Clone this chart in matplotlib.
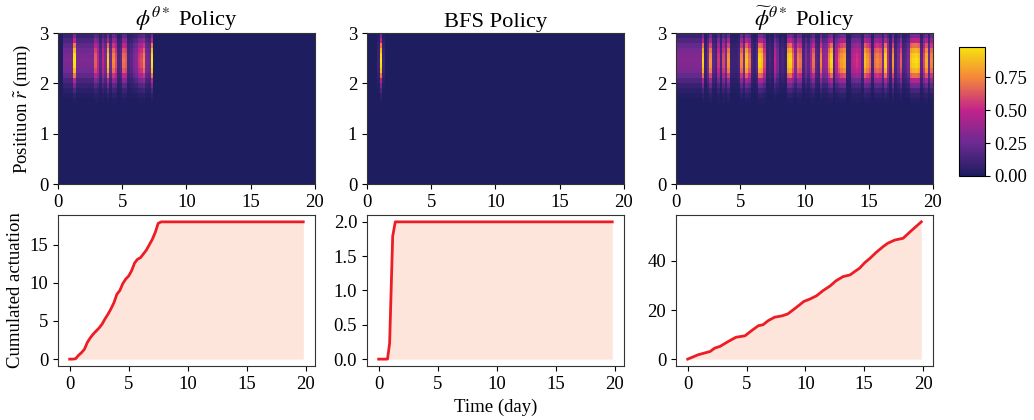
import numpy as np
import matplotlib
matplotlib.use("Agg")
import matplotlib.pyplot as plt
from matplotlib.colors import LinearSegmentedColormap
from matplotlib.ticker import FormatStrFormatter

plt.rcParams["font.family"] = ["Liberation Serif", "DejaVu Serif"]
plt.rcParams["mathtext.fontset"] = "stix"
plt.rcParams["font.size"] = 13.5

# ---- data -------------------------------------------------------------------
titles = [r"$\phi^{\theta*}$ Policy", "BFS Policy", r"$\widetilde{\phi}^{\theta*}$ Policy"]

# heatmap: time columns of 0.2 day, radial rows of 0.1 mm
t_edges = np.arange(0, 20.01, 0.2)
r_edges = np.arange(0, 3.001, 0.1)
# actuation profile along r (row centres 0.05 ... 2.95)
r_profile = [0.0] * 15 + [0.01, 0.03, 0.07, 0.15, 0.28, 0.48, 0.72, 0.9, 0.98,
                          1.0, 0.97, 0.88, 0.72, 0.5, 0.3]

amp_opt = ([0.0, 0.0, 0.3, 0.3, 0.3, 0.3, 1.0, 0.3, 0.3, 0.3,
            0.3, 0.3, 0.3, 0.3, 0.65, 0.5, 0.2, 0.5, 0.3, 0.95,
            0.25, 0.75, 0.6, 0.15, 0.2, 0.7, 0.65, 0.15, 0.2, 0.3,
            0.35, 0.55, 0.6, 0.75, 0.3, 0.25, 1.0] + [0.0] * 63)
amp_bfs = [0.0, 0.0, 0.0, 0.0, 0.1, 1.0, 0.1] + [0.0] * 93
amp_app = [0.32, 0.32, 0.32, 0.32, 0.32, 0.32, 0.32, 0.32, 0.32, 0.32,
           0.95, 0.1, 0.3, 0.8, 0.2, 0.15, 0.55, 0.15, 0.6, 0.3,
           0.8, 0.1, 0.1, 0.1, 0.15, 0.75, 0.3, 0.9, 0.7, 0.15,
           0.1, 0.2, 0.95, 0.9, 0.6, 0.1, 0.15, 0.1, 0.5, 0.3,
           0.1, 0.15, 0.1, 0.9, 0.95, 0.7, 0.35, 0.75, 0.7, 0.15,
           0.35, 0.2, 0.45, 0.7, 0.2, 0.15, 0.75, 0.35, 0.4, 0.75,
           0.95, 0.15, 0.5, 0.7, 0.8, 0.85, 0.1, 0.1, 0.45, 0.5,
           0.55, 0.5, 0.2, 0.9, 0.8, 0.7, 0.15, 0.7, 0.75, 0.7,
           0.3, 0.95, 0.5, 0.15, 0.8, 0.15, 0.3, 0.65, 0.15, 0.2,
           0.3, 0.9, 0.95, 0.97, 0.9, 0.2, 0.6, 0.85, 0.25, 0.75]
amps = [amp_opt, amp_bfs, amp_app]

# cumulated actuation curves
t_opt = [0, 0.25, 0.5, 0.75, 1.0, 1.25, 1.5, 1.75, 2.0, 2.25, 2.5, 2.75, 3.0,
         3.25, 3.5, 3.75, 4.0, 4.25, 4.5, 4.75, 5.0, 5.25, 5.5, 5.75, 6.0,
         6.25, 6.5, 6.75, 7.0, 7.25, 7.5, 7.75, 19.8]
c_opt = [0, 0, 0.05, 0.5, 0.85, 1.3, 2.2, 2.8, 3.3, 3.7, 4.1, 4.6, 5.3,
         5.9, 6.6, 7.4, 8.5, 9.0, 9.9, 10.5, 10.9, 11.6, 12.6, 13.1, 13.3,
         13.8, 14.3, 15.0, 15.7, 16.6, 17.8, 18.0, 18.0]
t_bfs = [0, 0.75, 0.93, 1.19, 1.41, 19.8]
c_bfs = [0, 0, 0.23, 1.79, 2.0, 2.0]
t_app = [0, 0.9, 1.9, 2.3, 2.75, 3.45, 4.1, 4.87, 5.4, 6.0, 6.4, 6.85, 7.4,
         8.0, 8.5, 8.97, 9.4, 9.87, 10.4, 10.95, 11.5, 12.1, 12.6, 13.2,
         13.8, 14.2, 14.6, 15.05, 15.5, 16.0, 16.6, 17.0, 17.6, 18.3, 19.0,
         19.85]
c_app = [0, 1.8, 3.1, 4.5, 5.2, 7.2, 8.9, 9.5, 11.5, 13.6, 14.0, 15.7, 17.1,
         17.6, 18.4, 20.1, 21.7, 23.5, 24.5, 25.8, 27.9, 29.8, 31.9, 33.6,
         34.3, 35.7, 37.0, 39.3, 41.1, 43.4, 45.8, 47.2, 48.5, 49.2, 52.3,
         55.9]
curves = [(t_opt, c_opt), (t_bfs, c_bfs), (t_app, c_app)]
yticks_bot = [[0, 5, 10, 15], [0, 0.5, 1.0, 1.5, 2.0], [0, 20, 40]]

# ---- style ------------------------------------------------------------------
cmap = LinearSegmentedColormap.from_list(
    "navy_plasma", [(0.0, "#1d1d60"), (0.25, "#6b2a92"), (0.5, "#c2238b"),
                    (0.75, "#f5873a"), (1.0, "#f7ea0c")])
LINE = "#ee1c25"
FILL = "#fde5dc"
SPINE = "#333333"

fig = plt.figure(figsize=(10.34, 4.2), dpi=100)
lefts = [0.0561, 0.3549, 0.6538]
width = 0.2485
top_b, bot_b, h = 0.5619, 0.1286, 0.3595

prof = np.array(r_profile)
for i in range(3):
    ax = fig.add_axes([lefts[i], top_b, width, h])
    Z = np.outer(prof, np.array(amps[i]))
    im = ax.pcolormesh(t_edges, r_edges, Z, cmap=cmap, vmin=0, vmax=1.0,
                       shading="flat", rasterized=True)
    ax.set_xlim(0, 20)
    ax.set_ylim(0, 3)
    ax.set_xticks([0, 5, 10, 15, 20])
    ax.set_yticks([0, 1, 2, 3])
    ax.set_title(titles[i], pad=4)
    if i == 0:
        ax.set_ylabel(r"Positiuon $\tilde{r}$ (mm)")
    for s in ax.spines.values():
        s.set_color(SPINE)

    axb = fig.add_axes([lefts[i], bot_b, width, h])
    tt, cc = curves[i]
    axb.fill_between(tt, 0, cc, color=FILL, lw=0)
    axb.plot(tt, cc, color=LINE, lw=2)
    axb.set_xticks([0, 5, 10, 15, 20])
    axb.set_yticks(yticks_bot[i])
    if i == 1:
        axb.yaxis.set_major_formatter(FormatStrFormatter("%.1f"))
        axb.set_xlabel("Time (day)")
    if i == 0:
        axb.set_ylabel("Cumulated actuation")
    for s in axb.spines.values():
        s.set_color(SPINE)

cax = fig.add_axes([0.9275, 0.581, 0.0251, 0.307])
cb = fig.colorbar(im, cax=cax, ticks=[0, 0.25, 0.5, 0.75])
cb.ax.yaxis.set_major_formatter(FormatStrFormatter("%.2f"))
cb.ax.set_ylim(0, 0.98)

fig.savefig("out.png", dpi=100)
